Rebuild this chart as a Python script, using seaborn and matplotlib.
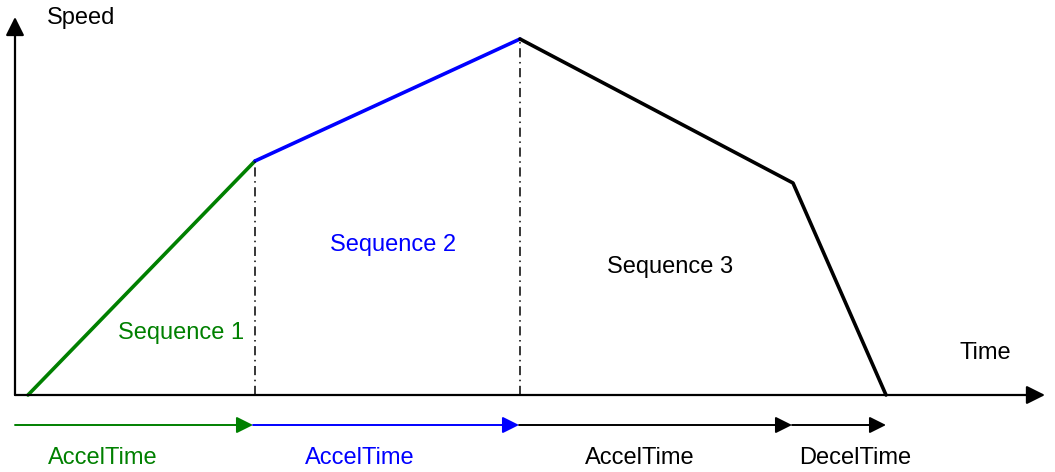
import matplotlib
matplotlib.use("Agg")
import matplotlib.pyplot as plt
import seaborn as sns
import pandas as pd

# speed profile corner points (time, speed)
seq_names = ["Sequence 1", "Sequence 2", "Sequence 3"]
seq_colors = ["#008000", "#0000ff", "#000000"]
seq_time = [[13, 240], [240, 505], [505, 778, 871]]
seq_speed = [[0, 234], [234, 356], [356, 212, 0]]
seq_label_pos = [(166, 62), (378, 150), (655, 128)]

# time spans drawn under the axis
span_start = [0, 238, 504, 777]
span_end = [238, 504, 777, 871]
span_labels = ["AccelTime", "AccelTime", "AccelTime", "DecelTime"]
span_colors = ["#008000", "#0000ff", "#000000", "#000000"]
span_label_x = [88, 345, 625, 840]

rows = []
for name, ts, vs in zip(seq_names, seq_time, seq_speed):
    for t, v in zip(ts, vs):
        rows.append({"time": t, "speed": v, "seq": name})
df = pd.DataFrame(rows)

sns.set_style("white")
plt.rcParams["font.family"] = ["Liberation Sans", "DejaVu Sans"]
plt.rcParams["text.color"] = "black"

fig = plt.figure(figsize=(10.55, 4.72), dpi=100)
ax = fig.add_axes([0, 0, 1, 1])

sns.lineplot(data=df, x="time", y="speed", hue="seq", palette=seq_colors,
             linewidth=2.6, sort=False, legend=False, ax=ax)

# dash-dot markers at sequence boundaries
for ts, vs in zip(seq_time[:2], seq_speed[:2]):
    ax.plot([ts[-1], ts[-1]], [0, vs[-1]], color="black", lw=1.1,
            linestyle=(0, (6, 3, 1, 3)))

# axes with arrows
ax.annotate("", xy=(0, 378), xytext=(0, 0),
            arrowprops=dict(arrowstyle="-|>", color="black", lw=1.6,
                            mutation_scale=28, shrinkA=0, shrinkB=0))
ax.annotate("", xy=(1030, 0), xytext=(0, 0),
            arrowprops=dict(arrowstyle="-|>", color="black", lw=1.6,
                            mutation_scale=28, shrinkA=0, shrinkB=0))
ax.text(32, 377, "Speed", fontsize=17, ha="left", va="center")
ax.text(970, 42, "Time", fontsize=17, ha="center", va="center")

for name, col, (x, y) in zip(seq_names, seq_colors, seq_label_pos):
    ax.text(x, y, name, color=col, fontsize=17, ha="center", va="center")

# time spans
for s, e, lab, col, lx in zip(span_start, span_end, span_labels,
                              span_colors, span_label_x):
    ax.annotate("", xy=(e, -30), xytext=(s, -30),
                arrowprops=dict(arrowstyle="-|>", color=col, lw=1.4,
                                mutation_scale=25, shrinkA=0, shrinkB=0))
    ax.text(lx, -63, lab, color=col, fontsize=17, ha="center", va="center")

ax.set_xlim(-15, 1040)
ax.set_ylim(-77, 395)
ax.axis("off")

fig.savefig("out.png", dpi=100)
